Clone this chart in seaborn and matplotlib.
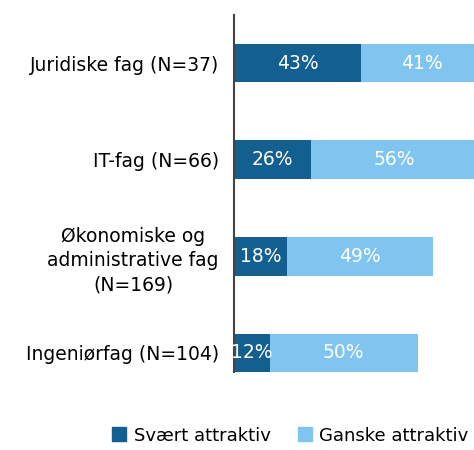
import matplotlib
matplotlib.use("Agg")
import matplotlib.pyplot as plt
import seaborn as sns
import pandas as pd
from matplotlib.patches import Patch

categories = ["Juridiske fag (N=37)", "IT-fag (N=66)",
              "Økonomiske og\nadministrative fag\n(N=169)", "Ingeniørfag (N=104)"]
svaert = [43, 26, 18, 12]
ganske = [41, 56, 49, 50]

dark = "#135f8f"
light = "#80c5f0"

sns.set_theme(style="white")
plt.rcParams["font.family"] = ["DejaVu Sans"]

df = pd.DataFrame({"kategori": categories, "svaert": svaert, "ganske": ganske})
df["total"] = df["svaert"] + df["ganske"]

fig = plt.figure(figsize=(4.74, 4.5), dpi=100)
ax = fig.add_axes([0.494, 0.173, 0.506, 0.794])

# stacked bars: total in light, dark part on top
sns.barplot(data=df, x="total", y="kategori", orient="h", color=light,
            width=0.4, saturation=1, linewidth=0, ax=ax)
sns.barplot(data=df, x="svaert", y="kategori", orient="h", color=dark,
            width=0.4, saturation=1, linewidth=0, ax=ax)

for i, (s, g) in enumerate(zip(svaert, ganske)):
    ax.text(s / 2, i, f"{s}%", ha="center", va="center", color="white", fontsize=13.5)
    ax.text(s + g / 2, i, f"{g}%", ha="center", va="center", color="white", fontsize=13.5)

ax.set_xlim(0, 81)
ax.set_ylim(3.2, -0.5)
ax.set_xlabel("")
ax.set_ylabel("")
ax.set_xticks([])
ax.tick_params(axis="y", length=0, pad=11, labelsize=13.5, labelcolor="black")
for lab in ax.get_yticklabels():
    lab.set_multialignment("center")
    lab.set_linespacing(1.35)
sns.despine(ax=ax, top=True, right=True, bottom=True)
ax.spines["left"].set_color("#444444")
ax.spines["left"].set_linewidth(1.5)

handles = [Patch(color=dark, label="Svært attraktiv"),
           Patch(color=light, label="Ganske attraktiv")]
fig.legend(handles=handles, loc="lower right", bbox_to_anchor=(1.0, 0.0),
           ncol=2, frameon=False, fontsize=13, labelcolor="black",
           handlelength=0.8, handleheight=0.8, handletextpad=0.4,
           columnspacing=1.5, borderaxespad=0.0, borderpad=0.3)

fig.savefig("out.png", dpi=100)
